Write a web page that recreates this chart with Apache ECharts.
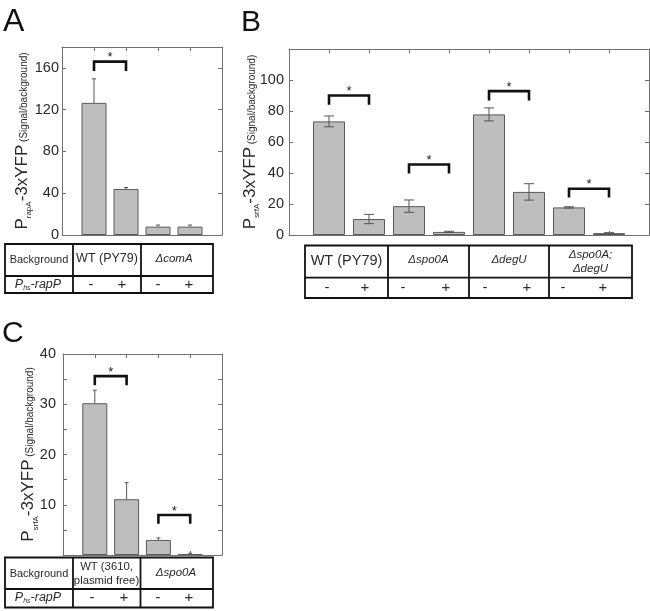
<!DOCTYPE html>
<html><head><meta charset="utf-8">
<script src="https://cdn.jsdelivr.net/npm/echarts@6/dist/echarts.min.js"></script>
<style>html,body{margin:0;padding:0;background:#fff}#c{width:650px;height:611px}</style>
</head><body><div id="c"></div>
<script>
// ---------------- data ----------------
const aValues = [126.5, 44, 8, 8];
const aErrors = [23, 1.5, 1.5, 1.5];
const aBrackets = [[1, 2, 166, 157]];

const bValues = [73.3, 10.3, 18.6, 2.0, 77.8, 27.8, 17.8, 1.2];
const bErrors = [3.5, 3.0, 4.0, 0.4, 4.2, 5.3, 0.4, 0.3];
const bBrackets = [[1, 2, 90, 84], [3, 4, 45.5, 39.7], [5, 6, 92.8, 86.8], [7, 8, 29.8, 24.2]];

const cValues = [30.2, 11.1, 3.0, 0.2];
const cErrors = [2.6, 3.3, 0.4, 0.15];
const cBrackets = [[1, 2, 35.6, 33.8], [3, 4, 7.95, 6.2]];

const aYAxis = { max: 180, step: 40, labelStep: 40, showZero: true, showMax: false };
const bYAxis = { max: 120, step: 20, labelStep: 20, showZero: true, showMax: false };
const cYAxis = { max: 40, step: 5, labelStep: 10, showZero: false, showMax: true };

const aBackgrounds = ['WT (PY79)', '\u0394comA'];
const bBackgrounds = ['WT (PY79)', '\u0394spo0A', '\u0394degU', '\u0394spo0A;\n\u0394degU'];
const cBackgrounds = ['WT (3610,\nplasmid free)', '\u0394spo0A'];
const rapPStates = ['-', '+'];
const rowLabelBackground = 'Background';
const rowLabelRapP = '{i|P}{s|hs}{i|-rapP}';
const aPromoter = 'rapA';
const bPromoter = 'srfA';
const cPromoter = 'srfA';
const panelLetters = ['A', 'B', 'C'];

// ---------------- style / layout ----------------
const FF = '"Liberation Sans", Arial, Helvetica, sans-serif';
const AXC = '#707070';
const TXT = '#2a2a2a';

const chart = echarts.init(document.getElementById('c'), null, { renderer: 'canvas' });

const grids = [
  { left: 62, top: 47, width: 160, height: 188 },
  { left: 289, top: 49, width: 360, height: 186 },
  { left: 63, top: 354, width: 159, height: 201 }
];

function yName(sub) {
  return '{p|P}{s|' + sub + '}{p|-3xYFP}{q| (Signal/background)}';
}
const yNameStyle = {
  color: TXT, fontFamily: FF,
  rich: {
    p: { fontSize: 17, verticalAlign: 'top', fontFamily: FF, color: TXT },
    s: { fontSize: 8, verticalAlign: 'top', padding: [11.5, 0, 0, 0], fontFamily: FF, color: TXT },
    q: { fontSize: 10, verticalAlign: 'top', padding: [5.5, 0, 0, 0], fontFamily: FF, color: TXT }
  }
};

const xAxes = [], yAxes = [];
const nBars = [aValues.length, bValues.length, cValues.length];
const yCfg = [aYAxis, bYAxis, cYAxis];
const promoters = [aPromoter, bPromoter, cPromoter];
const labelMargins = [3, 5, 7];
const nameGaps = [29, 28, 23.5];

for (let g = 0; g < 3; g++) {
  ['bottom', 'top'].forEach(pos => {
    xAxes.push({
      type: 'value', gridIndex: g, position: pos, min: 0, max: nBars[g] + 1, interval: 1,
      axisLine: { show: true, onZero: false, lineStyle: { color: AXC, width: 1 } },
      axisTick: { show: true, inside: true, length: 4, lineStyle: { color: AXC } },
      axisLabel: { show: false }, splitLine: { show: false }
    });
  });
  const yc = yCfg[g];
  yAxes.push({
    type: 'value', gridIndex: g, position: 'left', min: 0, max: yc.max, interval: yc.step,
    axisLine: { show: true, onZero: false, lineStyle: { color: AXC, width: 1 } },
    axisTick: { show: true, inside: true, length: 4, lineStyle: { color: AXC } },
    axisLabel: {
      show: true, margin: labelMargins[g], color: TXT, fontSize: 14.5, fontFamily: FF,
      showMaxLabel: yc.showMax,
      formatter: v => (v % yc.labelStep === 0 && (v !== 0 || yc.showZero) && (v < yc.max || yc.showMax)) ? String(v) : ''
    },
    splitLine: { show: false },
    name: yName(promoters[g]), nameLocation: 'middle', nameRotate: 90, nameGap: nameGaps[g],
    nameMoveOverlap: false,
    nameTextStyle: yNameStyle
  });
  yAxes.push({
    type: 'value', gridIndex: g, position: 'right', min: 0, max: yc.max, interval: yc.step,
    axisLine: { show: true, onZero: false, lineStyle: { color: AXC, width: 1 } },
    axisTick: { show: true, inside: true, length: 4, lineStyle: { color: AXC } },
    axisLabel: { show: false }, splitLine: { show: false }
  });
}

function errRender(cap, twoSided) {
  return function (params, api) {
    const x = api.value(0), lo = api.value(1), hi = api.value(2);
    const a = api.coord([x, lo]), b = api.coord([x, hi]);
    const st = { stroke: '#555', lineWidth: 1 };
    const ch = [{ type: 'line', shape: { x1: a[0], y1: a[1], x2: b[0], y2: b[1] }, style: st }];
    if (cap > 0) {
      ch.push({ type: 'line', shape: { x1: b[0] - cap / 2, y1: b[1], x2: b[0] + cap / 2, y2: b[1] }, style: st });
      if (twoSided) ch.push({ type: 'line', shape: { x1: a[0] - cap / 2, y1: a[1], x2: a[0] + cap / 2, y2: a[1] }, style: st });
    }
    return { type: 'group', children: ch };
  };
}

function bracketRender(params, api) {
  const x1 = api.value(0), x2 = api.value(1), yt = api.value(2), yl = api.value(3);
  const p1 = api.coord([x1, yl]), p2 = api.coord([x1, yt]), p3 = api.coord([x2, yt]), p4 = api.coord([x2, yl]);
  return {
    type: 'group', children: [
      { type: 'polyline', shape: { points: [p1, p2, p3, p4] }, style: { stroke: '#111', lineWidth: 2.6, fill: null } },
      { type: 'text', x: (p2[0] + p3[0]) / 2, y: p2[1] - 4,
        style: { text: '*', font: '13px ' + FF, fill: '#222', align: 'center', verticalAlign: 'middle' } }
    ]
  };
}

const values = [aValues, bValues, cValues];
const errors = [aErrors, bErrors, cErrors];
const brackets = [aBrackets, bBrackets, cBrackets];
const barWidths = [25, 32, 25];
const caps = [4, 10, 4];
const twoSided = [false, true, false];
const series = [];
for (let g = 0; g < 3; g++) {
  series.push({
    type: 'bar', xAxisIndex: 2 * g, yAxisIndex: 2 * g, barWidth: barWidths[g],
    data: values[g].map((v, i) => [i + 1, v]),
    itemStyle: { color: '#bebebe', borderColor: '#5a5a5a', borderWidth: 1 },
    silent: true, z: 2
  });
  series.push({
    type: 'custom', xAxisIndex: 2 * g, yAxisIndex: 2 * g, z: 3,
    renderItem: errRender(caps[g], twoSided[g]),
    data: values[g].map((v, i) => twoSided[g] ? [i + 1, v - errors[g][i], v + errors[g][i]] : [i + 1, v, v + errors[g][i]]),
    silent: true
  });
  series.push({
    type: 'custom', xAxisIndex: 2 * g, yAxisIndex: 2 * g, z: 4,
    renderItem: bracketRender, data: brackets[g], silent: true
  });
}

// ---------------- tables ----------------
const LW = 1.8;
function tableGraphic(t) {
  const els = [];
  const ls = { stroke: '#111', lineWidth: LW };
  els.push({ type: 'rect', shape: { x: t.x0, y: t.y0, width: t.x1 - t.x0, height: t.y1 - t.y0 }, style: { fill: null, stroke: '#111', lineWidth: LW } });
  els.push({ type: 'line', shape: { x1: t.x0, y1: t.ys, x2: t.x1, y2: t.ys }, style: ls });
  t.vlines.forEach(x => els.push({ type: 'line', shape: { x1: x, y1: t.y0, x2: x, y2: t.y1 }, style: ls }));
  t.texts.forEach(o => {
    els.push({ type: 'text', x: o.x, y: o.y, style: Object.assign({
      fill: TXT, fontFamily: FF, align: 'center', verticalAlign: 'middle'
    }, o.style) });
  });
  return els;
}
const italicSm = { fontSize: 11.5, fontStyle: 'italic' };
const rapPRich = {
  text: rowLabelRapP, verticalAlign: 'top',
  rich: {
    i: { fontSize: 12.5, fontStyle: 'italic', verticalAlign: 'top', fontFamily: FF, color: TXT },
    s: { fontSize: 7, fontStyle: 'italic', verticalAlign: 'top', padding: [6.5, 0, 0, 0], fontFamily: FF, color: TXT }
  }
};
const signStyle = { fontSize: 15 };

const tableA = {
  x0: 5, x1: 213, y0: 244, ys: 276, y1: 293, vlines: [73, 141],
  texts: [
    { x: 39, y: 260, style: { text: rowLabelBackground, fontSize: 11 } },
    { x: 107, y: 259, style: { text: aBackgrounds[0], fontSize: 12.5 } },
    { x: 174, y: 259, style: Object.assign({ text: aBackgrounds[1] }, italicSm) },
    { x: 38, y: 278.5, style: rapPRich },
    { x: 91, y: 284.5, style: Object.assign({ text: rapPStates[0] }, signStyle) },
    { x: 122, y: 284.5, style: Object.assign({ text: rapPStates[1] }, signStyle) },
    { x: 158, y: 284.5, style: Object.assign({ text: rapPStates[0] }, signStyle) },
    { x: 189, y: 284.5, style: Object.assign({ text: rapPStates[1] }, signStyle) }
  ]
};
const bSignX = [327, 365, 403, 446, 485, 527, 563, 603];
const tableB = {
  x0: 305, x1: 632, y0: 245.5, ys: 277.7, y1: 298, vlines: [388, 469, 549],
  texts: [
    { x: 346.5, y: 261, style: { text: bBackgrounds[0], fontSize: 14.5 } },
    { x: 428.5, y: 260, style: Object.assign({ text: bBackgrounds[1] }, italicSm) },
    { x: 509, y: 260, style: Object.assign({ text: bBackgrounds[2] }, italicSm) },
    { x: 590.5, y: 262, style: Object.assign({ text: bBackgrounds[3], lineHeight: 14 }, italicSm) }
  ].concat(bSignX.map((x, i) => ({ x: x, y: 288, style: Object.assign({ text: rapPStates[i % 2] }, signStyle) })))
};
const tableC = {
  x0: 5, x1: 213, y0: 557.5, ys: 589, y1: 607.5, vlines: [73, 140.5],
  texts: [
    { x: 39, y: 573.5, style: { text: rowLabelBackground, fontSize: 11 } },
    { x: 106.5, y: 574, style: { text: cBackgrounds[0], fontSize: 11.3, lineHeight: 14 } },
    { x: 176, y: 573, style: Object.assign({ text: cBackgrounds[1] }, italicSm) },
    { x: 38, y: 591.5, style: rapPRich },
    { x: 92, y: 598, style: Object.assign({ text: rapPStates[0] }, signStyle) },
    { x: 124, y: 598, style: Object.assign({ text: rapPStates[1] }, signStyle) },
    { x: 158, y: 598, style: Object.assign({ text: rapPStates[0] }, signStyle) },
    { x: 189, y: 598, style: Object.assign({ text: rapPStates[1] }, signStyle) }
  ]
};

const letters = [
  { type: 'text', x: 3, y: 6, style: { text: panelLetters[0], fontSize: 32, fontFamily: FF, fill: '#111' } },
  { type: 'text', x: 241, y: 8, style: { text: panelLetters[1], fontSize: 30, fontFamily: FF, fill: '#111' } },
  { type: 'text', x: 2, y: 319, style: { text: panelLetters[2], fontSize: 30, fontFamily: FF, fill: '#111' } }
];

chart.setOption({
  animation: false,
  backgroundColor: '#fff',
  grid: grids,
  xAxis: xAxes,
  yAxis: yAxes,
  series: series,
  graphic: { elements: letters.concat(tableGraphic(tableA), tableGraphic(tableB), tableGraphic(tableC)) }
});
</script></body></html>
